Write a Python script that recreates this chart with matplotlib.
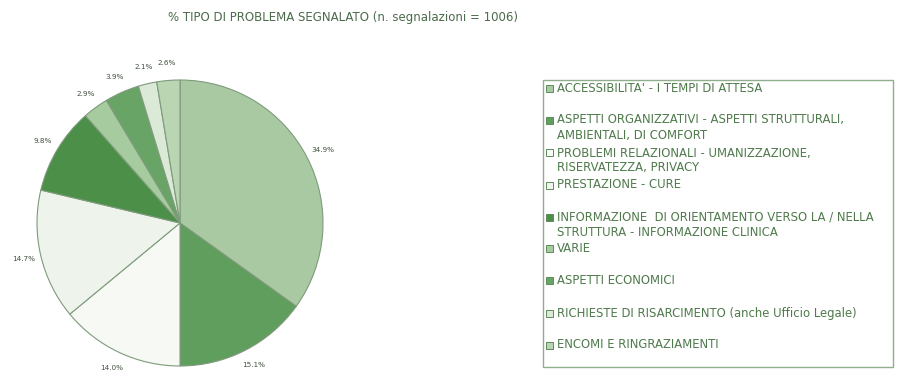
import matplotlib
matplotlib.use("Agg")
import matplotlib.pyplot as plt
from matplotlib.patches import Rectangle

# Segnalazioni per tipo di problema (percentuali)
categories = [
    "ACCESSIBILITA' - I TEMPI DI ATTESA",
    "ASPETTI ORGANIZZATIVI - ASPETTI STRUTTURALI,\nAMBIENTALI, DI COMFORT",
    "PROBLEMI RELAZIONALI - UMANIZZAZIONE,\nRISERVATEZZA, PRIVACY",
    "PRESTAZIONE - CURE",
    "INFORMAZIONE  DI ORIENTAMENTO VERSO LA / NELLA\nSTRUTTURA - INFORMAZIONE CLINICA",
    "VARIE",
    "ASPETTI ECONOMICI",
    "RICHIESTE DI RISARCIMENTO (anche Ufficio Legale)",
    "ENCOMI E RINGRAZIAMENTI",
]
values = [34.9, 15.1, 14.0, 14.7, 9.8, 2.9, 3.9, 2.1, 2.6]
colors = ["#a9c9a2", "#5f9e5c", "#f6f9f4", "#eef4ec", "#4b8f49",
          "#a6cb9f", "#68a465", "#dbe9d7", "#b9d5b2"]
title = "% TIPO DI PROBLEMA SEGNALATO (n. segnalazioni = 1006)"

W, H = 898, 372
fig = plt.figure(figsize=(W / 100, H / 100), dpi=100)

# pie axes: centre (180, 223) px, radius 143 px
cx, cy, r = 180, 223, 143
lim = 1.3
size = 2 * lim * r
ax = fig.add_axes([(cx - size / 2) / W, (H - cy - size / 2) / H, size / W, size / H])
wedges, texts = ax.pie(
    values, colors=colors, startangle=90, counterclock=False,
    labels=[f"{v:.1f}%" for v in values], labeldistance=1.12,
    wedgeprops=dict(edgecolor="#7f9a7c", linewidth=0.8),
    textprops=dict(fontsize=5.2, color="#3f4f3f"),
)
for t in texts:
    t.set_ha("center")
    t.set_va("center")
ax.set_xlim(-lim, lim)
ax.set_ylim(-lim, lim)
ax.set_aspect("equal")
ax.axis("off")

fig.text(343 / W, 1 - 18 / H, title, ha="center", va="center",
         fontsize=8.5, color="#4c6a4c")

# legend box
lx0, lx1, ly0, ly1 = 543, 893, 80, 367
fig.patches.append(Rectangle((lx0 / W, 1 - ly1 / H), (lx1 - lx0) / W, (ly1 - ly0) / H,
                             transform=fig.transFigure, fill=False,
                             edgecolor="#8fae8b", linewidth=1.0))
rows = [88, 120, 153, 185, 217, 248, 280, 313, 345]
for y, lab, c in zip(rows, categories, colors):
    fig.patches.append(Rectangle((546 / W, 1 - (y + 3.5) / H), 7 / W, 7 / H,
                                 transform=fig.transFigure, facecolor=c,
                                 edgecolor="#5f8a5c", linewidth=0.7))
    fig.text(557 / W, 1 - (y - 6.5) / H, lab, ha="left", va="top",
             fontsize=8.4, color="#4f7a4c", linespacing=1.2)

fig.savefig("out.png", dpi=100, facecolor="white")
